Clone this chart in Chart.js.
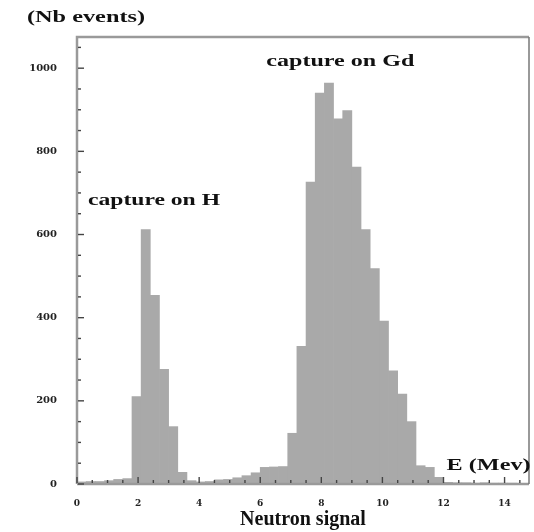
<!DOCTYPE html>
<html>
<head>
<meta charset="utf-8">
<script src="https://cdn.jsdelivr.net/npm/chart.js@4.4.1/dist/chart.umd.min.js"></script>
<style>
  html, body { margin: 0; padding: 0; background: #ffffff; }
  #wrap { width: 534px; height: 532px; position: relative; }
</style>
</head>
<body>
<div id="wrap"><canvas id="c" width="534" height="532"></canvas></div>
<script>
// ---- data ----
const binCenters = [
  0.15, 0.45, 0.75, 1.05, 1.35, 1.65, 1.95, 2.25, 2.55, 2.85,
  3.15, 3.45, 3.75, 4.05, 4.35, 4.65, 4.95, 5.25, 5.55, 5.85,
  6.15, 6.45, 6.75, 7.05, 7.35, 7.65, 7.95, 8.25, 8.55, 8.85,
  9.15, 9.45, 9.75, 10.05, 10.35, 10.65, 10.95, 11.25, 11.55, 11.85,
  12.15, 12.45, 12.75, 13.05, 13.35, 13.65, 13.95, 14.25, 14.55
];
const eventCounts = [
  5, 6, 6, 8, 11, 13, 210, 612, 454, 276,
  138, 28, 8, 5, 6, 10, 11, 15, 20, 27,
  40, 41, 42, 122, 331, 726, 940, 964, 878, 898,
  762, 612, 518, 392, 272, 216, 150, 44, 40, 16,
  4, 3, 3, 2, 3, 2, 2, 2, 1
];
const xTickValues = [0, 2, 4, 6, 8, 10, 12, 14];
const yTickValues = [0, 200, 400, 600, 800, 1000];
const yAxisLabel = "(Nb events)";
const xAxisUnit = "E (Mev)";
const xAxisTitle = "Neutron signal";
const peakLabels = ["capture on H", "capture on Gd"];

// ---- chart ----
const X_MIN = 0, X_MAX = 14.8, Y_MIN = 0, Y_MAX = 1075;

function fitText(ctx, text, x, y, targetWidth) {
  const w = ctx.measureText(text).width;
  const sx = targetWidth / w;
  ctx.save();
  ctx.translate(x, y);
  ctx.scale(sx, 1);
  ctx.fillText(text, 0, 0);
  ctx.restore();
}

const frameAndTicks = {
  id: 'frameAndTicks',
  afterDatasetsDraw(chart) {
    const ctx = chart.ctx;
    const a = chart.chartArea;
    const xs = chart.scales.x, ys = chart.scales.y;
    ctx.save();
    ctx.strokeStyle = '#9a9a9a';
    ctx.lineWidth = 2.5;
    ctx.beginPath();
    ctx.moveTo(a.left, a.bottom);
    ctx.lineTo(a.left, a.top);
    ctx.lineTo(a.right, a.top);
    ctx.stroke();
    ctx.beginPath();
    ctx.moveTo(a.left, a.bottom);
    ctx.lineTo(a.right, a.bottom);
    ctx.stroke();
    ctx.strokeStyle = '#777';
    ctx.lineWidth = 1.5;
    ctx.beginPath();
    ctx.moveTo(a.right, a.top);
    ctx.lineTo(a.right, a.bottom);
    ctx.stroke();
    ctx.strokeStyle = '#444';
    ctx.lineWidth = 1.4;
    for (let v = 0; v <= X_MAX + 1e-9; v += 0.5) {
      const px = xs.getPixelForValue(v);
      const major = Math.abs(v / 2 - Math.round(v / 2)) < 1e-6;
      const len = major ? 6 : 3;
      ctx.beginPath();
      ctx.moveTo(px, a.bottom - 1);
      ctx.lineTo(px, a.bottom - 1 - len);
      ctx.stroke();
    }
    for (let v = 0; v <= Y_MAX; v += 50) {
      const py = ys.getPixelForValue(v);
      const major = v % 200 === 0;
      const len = major ? 6 : 3;
      ctx.beginPath();
      ctx.moveTo(a.left + 1, py);
      ctx.lineTo(a.left + 1 + len, py);
      ctx.stroke();
    }
    ctx.restore();
  },
  afterDraw(chart) {
    const ctx = chart.ctx;
    const xs = chart.scales.x, ys = chart.scales.y;
    ctx.save();
    ctx.fillStyle = '#111';
    ctx.textBaseline = 'middle';
    ctx.textAlign = 'left';
    ctx.font = 'bold 16px "Liberation Serif"';
    fitText(ctx, yAxisLabel, 27, 18, 118);
    fitText(ctx, peakLabels[0], xs.getPixelForValue(0.36), ys.getPixelForValue(682), 132);
    fitText(ctx, peakLabels[1], xs.getPixelForValue(6.2), ys.getPixelForValue(1015), 148);
    fitText(ctx, xAxisUnit, xs.getPixelForValue(12.1), ys.getPixelForValue(43), 84);
    ctx.restore();
  }
};

new Chart(document.getElementById('c'), {
  type: 'bar',
  data: {
    datasets: [{
      data: binCenters.map((x, i) => ({ x: x, y: eventCounts[i] })),
      backgroundColor: '#a9a9a9',
      borderWidth: 0,
      barPercentage: 1.0,
      categoryPercentage: 1.0
    }]
  },
  options: {
    responsive: false,
    animation: false,
    events: [],
    layout: { padding: { top: 37, right: 5, left: 0, bottom: 0 } },
    plugins: { legend: { display: false }, tooltip: { enabled: false }, title: { display: false } },
    scales: {
      x: {
        type: 'linear',
        offset: false,
        min: X_MIN, max: X_MAX,
        grid: { display: false, offset: false },
        border: { display: false },
        afterBuildTicks: (s) => { s.ticks = xTickValues.map(v => ({ value: v })); },
        afterFit: (s) => { s.height = 48; },
        ticks: {
          autoSkip: false, maxRotation: 0, padding: 6,
          color: '#222',
          callback: (v) => String(v),
          font: { family: '"DejaVu Serif"', size: 9, weight: 'bold' }
        },
        title: {
          display: true, text: xAxisTitle, color: '#111',
          font: { family: '"Liberation Serif"', size: 20, weight: 'bold' },
          padding: { top: 0, bottom: 0 }
        }
      },
      y: {
        type: 'linear',
        min: Y_MIN, max: Y_MAX,
        grid: { display: false },
        border: { display: false },
        afterBuildTicks: (s) => { s.ticks = yTickValues.map(v => ({ value: v })); },
        afterFit: (s) => { s.width = 77; },
        ticks: {
          autoSkip: false, padding: 12,
          color: '#222',
          callback: (v) => String(v),
          font: { family: '"DejaVu Serif"', size: 10, weight: 'bold' }
        }
      }
    }
  },
  plugins: [frameAndTicks]
});
</script>
</body>
</html>
